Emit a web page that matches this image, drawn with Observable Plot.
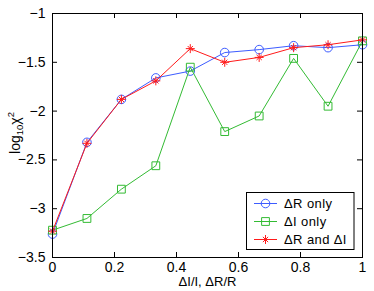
<!DOCTYPE html>
<html><head><meta charset="utf-8">
<script src="https://cdn.jsdelivr.net/npm/d3@7"></script>
<script src="https://cdn.jsdelivr.net/npm/@observablehq/plot@0.6"></script>
<style>
body{margin:0;background:#fff;font-family:"Liberation Sans",Arial,sans-serif;}
#chart{position:relative;width:374px;height:291px;}
</style></head><body><div id="chart"></div>
<script>
const xs = [0, 1/9, 2/9, 3/9, 4/9, 5/9, 6/9, 7/9, 8/9, 1];
const dR = [-3.26, -2.32, -1.88, -1.66, -1.59, -1.40, -1.37, -1.33, -1.35, -1.32];
const dI = [-3.22, -3.10, -2.80, -2.56, -1.55, -2.21, -2.05, -1.46, -1.95, -1.28];
const dRI = [-3.23, -2.33, -1.88, -1.69, -1.36, -1.50, -1.45, -1.35, -1.32, -1.27];
const seriesNames = ["\u0394R only", "\u0394I only", "\u0394R and \u0394I"];
const colors = ["#3d5cff", "#33bb33", "#ff1a1a"];
const xTicks = [0, 0.2, 0.4, 0.6, 0.8, 1];
const yTicks = [-3.5, -3, -2.5, -2, -1.5, -1];
const xLabel = "\u0394I/I, \u0394R/R";

const rows = (ys) => xs.map((x, i) => ({x, y: ys[i]}));
const W = 374, H = 291, mL = 52, mR = 12, mT = 13, mB = 34;
const iH = H - mT - mB, iW = W - mL - mR;
const FS = 13, TFS = 14;
const fmt = d => String(d).replace("-", "\u2212");

const plot = Plot.plot({
  width: W, height: H,
  marginLeft: mL, marginRight: mR, marginTop: mT, marginBottom: mB,
  style: {fontFamily: "'Liberation Sans', Arial, sans-serif", fontSize: FS + "px", color: "#000", background: "#fff"},
  x: {domain: [0, 1], ticks: xTicks, tickFormat: d => String(d)},
  y: {domain: [-3.5, -1], ticks: yTicks, tickFormat: fmt},
  marks: [
    Plot.axisX({ticks: xTicks, tickSize: 0, tickPadding: 5, label: null, tickFormat: d => String(d), fontSize: TFS}),
    Plot.axisY({ticks: yTicks, tickSize: 0, tickPadding: 7, label: null, tickFormat: fmt, fontSize: TFS}),
    Plot.tickX(xTicks, {x: d => d, insetTop: iH - 5, stroke: "#000"}),
    Plot.tickX(xTicks, {x: d => d, insetBottom: iH - 5, stroke: "#000"}),
    Plot.tickY(yTicks, {y: d => d, insetLeft: iW - 5, stroke: "#000"}),
    Plot.tickY(yTicks, {y: d => d, insetRight: iW - 5, stroke: "#000"}),
    Plot.line(rows(dR), {x: "x", y: "y", stroke: colors[0], strokeWidth: 1}),
    Plot.dot(rows(dR), {x: "x", y: "y", stroke: colors[0], symbol: "circle", r: 4.3, strokeWidth: 1}),
    Plot.line(rows(dI), {x: "x", y: "y", stroke: colors[1], strokeWidth: 1}),
    Plot.dot(rows(dI), {x: "x", y: "y", stroke: colors[1], symbol: "square", r: 4.4, strokeWidth: 1}),
    Plot.line(rows(dRI), {x: "x", y: "y", stroke: colors[2], strokeWidth: 1}),
    Plot.dot(rows(dRI), {x: "x", y: "y", stroke: colors[2], symbol: "plus", r: 3.0, strokeWidth: 1}),
    Plot.dot(rows(dRI), {x: "x", y: "y", stroke: colors[2], symbol: "times", r: 2.5, strokeWidth: 1}),
    Plot.frame({stroke: "#000"}),
    Plot.text([xLabel], {frameAnchor: "bottom", dy: 28.5, text: d => d, fontSize: FS, fill: "#000"})
  ]
});
document.getElementById("chart").appendChild(plot);

const svg = d3.select(plot);
// y label with subscript and superscript
const yl = svg.append("text")
  .attr("transform", `translate(20,133) rotate(-90)`)
  .attr("text-anchor", "middle")
  .attr("font-size", TFS).attr("fill", "#000");
yl.append("tspan").text("log");
yl.append("tspan").attr("font-size", 9.5).attr("dy", 3).text("10");
yl.append("tspan").attr("dy", -3).text("\u03c7");
yl.append("tspan").attr("font-size", 9.5).attr("dy", -6).text("2");

// legend
const lg = svg.append("g").attr("text-anchor", "start");
const lx = 246.5, ly = 192.5, lw = 107.5, lh = 57;
lg.append("rect").attr("x", lx).attr("y", ly).attr("width", lw).attr("height", lh)
  .attr("fill", "#fff").attr("stroke", "#000");
const rowY = [203.5, 221.5, 239.5];
const sym = [d3.symbol(d3.symbolCircle, Math.PI * 4.3 * 4.3)(), d3.symbol(d3.symbolSquare, Math.PI * 4.4 * 4.4)()];
seriesNames.forEach((name, i) => {
  const y = rowY[i];
  lg.append("line").attr("x1", 254).attr("x2", 277).attr("y1", y).attr("y2", y).attr("stroke", colors[i]);
  if (i < 2) {
    lg.append("path").attr("d", sym[i]).attr("transform", `translate(265.5,${y})`).attr("fill", "none").attr("stroke", colors[i]);
  } else {
    lg.append("path").attr("d", d3.symbol(d3.symbolPlus, Math.PI * 3.0 * 3.0)()).attr("transform", `translate(265.5,${y})`).attr("fill", "none").attr("stroke", colors[i]);
    lg.append("path").attr("d", d3.symbol(d3.symbolTimes, Math.PI * 2.5 * 2.5)()).attr("transform", `translate(265.5,${y})`).attr("fill", "none").attr("stroke", colors[i]);
  }
  lg.append("text").attr("x", 284).attr("y", y + 4.5).attr("font-size", FS).attr("letter-spacing", "0.4px").attr("fill", "#000").text(name);
});
</script></body></html>
